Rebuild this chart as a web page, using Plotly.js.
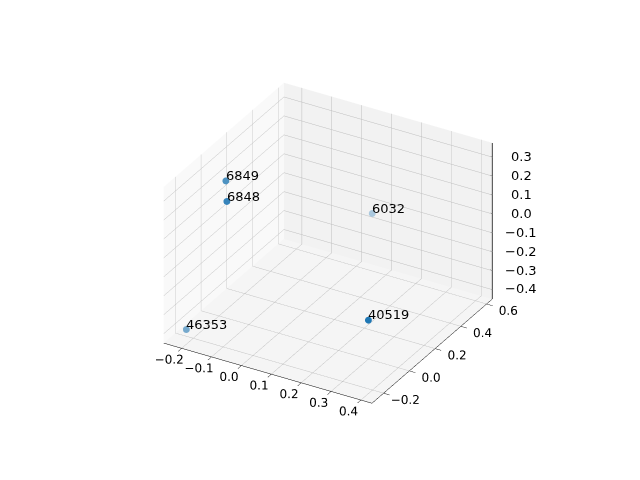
<!DOCTYPE html>
<html>
<head>
<meta charset="utf-8">
<script src="https://cdn.plot.ly/plotly-3.0.1.min.js"></script>
<style>html,body{margin:0;padding:0;background:#fff;}#chart{width:640px;height:480px;}</style>
</head>
<body>
<div id="chart"></div>
<script>
// Data
const labels = ["6849", "6848", "6032", "46353", "40519"];
const xValues = [-0.157, -0.089, 0.061, -0.213, 0.392];
const yValues = [-0.047, -0.197, 0.584, -0.224, -0.214];
const zValues = [0.311, 0.322, -0.133, -0.395, -0.076];
const zTickValues = [-0.4, -0.3, -0.2, -0.1, 0.0, 0.1, 0.2, 0.3];

// Style
const markerColors = ["rgb(77,146,193)", "rgb(54,132,187)", "rgb(170,200,222)", "rgb(117,169,205)", "rgb(31,119,180)"];
const xRange = [-0.26, 0.437], yRange = [-0.29, 0.644], zRange = [-0.45, 0.375];
const font = {family: "DejaVu Sans", size: 13, color: "black"};
const tickFont = {family: "DejaVu Sans", size: 12, color: "black"};
const boxScale = 1.3;

const axisCommon = {
  showbackground: true,
  gridcolor: "rgb(190,190,190)",
  gridwidth: 1,
  showline: true,
  linecolor: "black",
  linewidth: 1,
  zeroline: false,
  ticks: "outside",
  ticklen: 7,
  tickcolor: "black",
  tickformat: ".1f",
  tickangle: 0,
  tickfont: tickFont,
  title: {text: ""},
  showspikes: false
};

const points = {
  type: "scatter3d",
  mode: "markers",
  x: xValues, y: yValues, z: zValues,
  marker: {size: 4, color: markerColors},
  hoverinfo: "none"
};

// z tick marks on the right-hand (x max, y max) edge, built from the tick values
const tx = [], ty = [], tz = [];
const tickLenX = (xRange[1] - xRange[0]) * 0.025;
zTickValues.forEach(function (v) {
  tx.push(xRange[1] - tickLenX * 0.5, xRange[1] + tickLenX, null);
  ty.push(yRange[1], yRange[1], null);
  tz.push(v, v, null);
});
const zTicks = {
  type: "scatter3d", mode: "lines", x: tx, y: ty, z: tz,
  line: {color: "black", width: 1.5}, hoverinfo: "none"
};
const zLine = {
  type: "scatter3d", mode: "lines",
  x: [xRange[1], xRange[1]], y: [yRange[1], yRange[1]], z: [zRange[0], zRange[1]],
  line: {color: "black", width: 1.5}, hoverinfo: "none"
};

const annotations = labels.map(function (t, i) {
  return {x: xValues[i], y: yValues[i], z: zValues[i], text: t, showarrow: false,
    xanchor: "left", yanchor: "bottom", yshift: -5, xshift: -2, font: font};
}).concat(zTickValues.map(function (v) {
  return {x: xRange[1], y: yRange[1], z: v, text: v.toFixed(1).replace("-", "\u2212"), showarrow: false,
    xanchor: "center", yanchor: "middle", xshift: 29, font: font};
}));

const eyeR = 1.8;
const layout = {
  width: 640, height: 480,
  margin: {l: 0, r: 0, t: 0, b: 0},
  paper_bgcolor: "white",
  showlegend: false,
  scene: {
    domain: {x: [0.125, 0.9], y: [0.11, 0.88]},
    aspectmode: "manual",
    aspectratio: {x: 1 * boxScale, y: 1 * boxScale, z: 0.75 * boxScale},
    camera: {
      eye: {x: 0.433 * eyeR, y: -0.75 * eyeR, z: 0.5 * eyeR},
      center: {x: 0, y: 0, z: 0},
      up: {x: 0, y: 0, z: 1},
      projection: {type: "orthographic"}
    },
    xaxis: Object.assign({}, axisCommon, {range: xRange, dtick: 0.1, tick0: 0, backgroundcolor: "rgb(249,249,249)"}),
    yaxis: Object.assign({}, axisCommon, {range: yRange, dtick: 0.2, tick0: 0, backgroundcolor: "rgb(242,242,242)"}),
    zaxis: Object.assign({}, axisCommon, {range: zRange, dtick: 0.1, tick0: 0, backgroundcolor: "rgb(245,245,245)",
      showticklabels: false, ticks: "", showline: false}),
    annotations: annotations
  }
};

Plotly.newPlot("chart", [points, zTicks, zLine], layout, {displayModeBar: false}).catch(function (e) {
  document.body.insertAdjacentText("afterbegin", "ERR " + e);
});
</script>
</body>
</html>
